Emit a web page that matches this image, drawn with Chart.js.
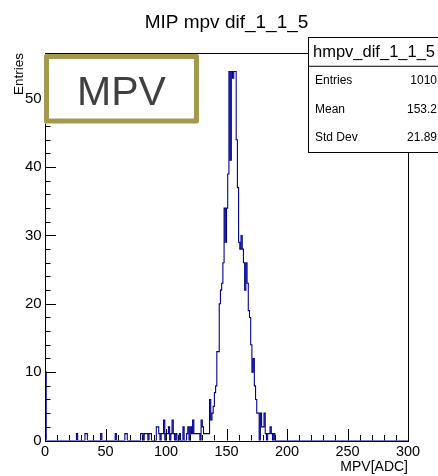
<!DOCTYPE html>
<html><head><meta charset="utf-8">
<script src="https://cdn.jsdelivr.net/npm/chart.js@4.4.1/dist/chart.umd.min.js"></script>
<style>html,body{margin:0;padding:0;background:#fff;overflow:hidden}canvas{display:block}</style>
</head><body>
<canvas id="c" width="438" height="476"></canvas>
<script>
const chartTitle = 'MIP mpv dif_1_1_5';
const histName = 'hmpv_dif_1_1_5';
const statLabels = ['Entries', 'Mean', 'Std Dev'];
const statValues = ['1010', '153.2', '21.89'];
const xTitle = 'MPV[ADC]';
const yTitle = 'Entries';
const overlayLabel = 'MPV';
const xTicks = [0, 50, 100, 150, 200, 250, 300];
const yTicks = [0, 10, 20, 30, 40, 50];
const xRange = [0, 300];
const yRange = [0, 56.7];
const binWidth = 1;
// lower edges of non-empty bins and their contents
const binLow = [0, 26, 33, 34, 46, 58, 66, 67, 79, 80, 82, 83, 84, 86, 87, 92, 93, 94, 96, 97, 98,
  100, 101, 102, 104, 105, 106, 108, 111, 114, 117, 118, 120, 121, 122, 123, 124, 125, 126, 127,
  129, 130, 131, 132, 133, 134, 135, 136, 137, 138, 139, 140, 141, 142, 143, 144, 145, 146, 147,
  148, 149, 150, 151, 152, 153, 154, 155, 156, 157, 158, 159, 160, 161, 162, 163, 164, 165, 166,
  167, 168, 169, 170, 171, 172, 173, 174, 175, 176, 178, 179, 180, 181, 182, 184, 185, 186, 187, 189];
const binCount = [10, 1, 1, 1, 1, 1, 1, 1, 1, 1, 1, 1, 1, 1, 1, 2, 2, 1, 1, 1, 3,
  1, 1, 2, 1, 3, 1, 1, 1, 2, 1, 2, 2, 1, 3, 1, 1, 1, 1, 1,
  3, 2, 1, 1, 1, 1, 1, 6, 3, 4, 5, 7, 8, 13, 13, 20, 22, 23, 26,
  34, 29, 34, 39, 54, 41, 54, 53, 54, 54, 44, 37, 29, 28, 30, 28, 26, 22, 26,
  23, 19, 18, 14, 10, 12, 8, 6, 4, 4, 4, 2, 2, 4, 1, 1, 1, 2, 1, 1];

const nBins = Math.round((xRange[1] - xRange[0]) / binWidth);
const contents = new Array(nBins).fill(0);
binLow.forEach((b, i) => { contents[Math.round((b - xRange[0]) / binWidth)] = binCount[i]; });
const pts = [{x: xRange[0], y: 0}];
contents.forEach((c, i) => pts.push({x: xRange[0] + i * binWidth, y: c}));
pts.push({x: xRange[1], y: contents[nBins - 1]});
pts.push({x: xRange[1], y: 0});

const FONT = 'Liberation Sans, Arial, Helvetica, sans-serif';
Chart.defaults.font.family = FONT;

const rootDecor = {
  id: 'rootDecor',
  beforeDraw(chart) {
    const ctx = chart.ctx;
    ctx.save(); ctx.fillStyle = '#fff'; ctx.fillRect(0, 0, chart.width, chart.height); ctx.restore();
  },
  afterDatasetsDraw(chart) {
    const ctx = chart.ctx, a = chart.chartArea;
    const xs = chart.scales.x, ys = chart.scales.y;
    ctx.save();
    ctx.strokeStyle = '#000'; ctx.lineWidth = 1;
    ctx.strokeRect(Math.round(a.left) + 0.5, Math.round(a.top) + 0.5, Math.round(a.right - a.left), Math.round(a.bottom - a.top));
    ctx.beginPath();
    // y ticks
    for (let v = yRange[0]; v <= yRange[1]; v += 2) {
      const y = Math.round(ys.getPixelForValue(v)) + 0.5;
      const len = yTicks.includes(v) ? 11 : 5.5;
      ctx.moveTo(a.left, y); ctx.lineTo(a.left + len, y);
    }
    // x ticks
    for (let v = xRange[0]; v <= xRange[1]; v += 10) {
      const x = Math.round(xs.getPixelForValue(v)) + 0.5;
      const len = xTicks.includes(v) ? 11.5 : 5.5;
      ctx.moveTo(x, a.bottom); ctx.lineTo(x, a.bottom - len);
    }
    ctx.stroke();
    ctx.restore();
  },
  afterDraw(chart) {
    const ctx = chart.ctx;
    ctx.save();
    // title
    ctx.fillStyle = '#000';
    ctx.font = '19px ' + FONT;
    ctx.textAlign = 'center'; ctx.textBaseline = 'alphabetic';
    ctx.fillText(chartTitle, 226.5, 27.5);
    // stats box
    const bx = 308.5, by = 37.5, bw = 140, bh = 115;
    ctx.fillStyle = '#fff'; ctx.fillRect(bx, by, bw, bh);
    ctx.strokeStyle = '#000'; ctx.lineWidth = 1;
    ctx.strokeRect(bx, by, bw, bh);
    const rowH = bh / 4;
    ctx.beginPath(); ctx.moveTo(bx, by + rowH); ctx.lineTo(bx + bw, by + rowH); ctx.stroke();
    ctx.fillStyle = '#000';
    ctx.font = '16.5px ' + FONT;
    ctx.textAlign = 'left'; ctx.textBaseline = 'middle';
    ctx.fillText(histName, 313, by + rowH / 2 + 0.5);
    ctx.font = '12px ' + FONT;
    statLabels.forEach((l, i) => {
      const cy = by + rowH * (i + 1.5);
      ctx.textAlign = 'left'; ctx.fillText(l, 315, cy);
      ctx.textAlign = 'right'; ctx.fillText(statValues[i], 437, cy);
    });
    // MPV overlay box
    ctx.fillStyle = '#fff';
    ctx.fillRect(44, 54, 155, 69.5);
    ctx.strokeStyle = '#a39a4e'; ctx.lineWidth = 5; ctx.lineJoin = 'round';
    ctx.strokeRect(46.5, 56.5, 150, 64.5);
    ctx.fillStyle = '#404040';
    ctx.font = '41px ' + FONT;
    ctx.textAlign = 'center'; ctx.textBaseline = 'alphabetic';
    ctx.fillText(overlayLabel, 121.5, 105);
    ctx.restore();
  }
};

new Chart(document.getElementById('c'), {
  type: 'line',
  data: {
    datasets: [{
      data: pts,
      stepped: true,
      borderColor: '#00008f',
      borderWidth: 1.1,
      pointRadius: 0,
      fill: false,
      tension: 0
    }]
  },
  options: {
    responsive: false,
    animation: false,
    devicePixelRatio: 1,
    layout: {padding: {left: 0, right: 30, top: 53, bottom: 0}},
    plugins: {legend: {display: false}, tooltip: {enabled: false}, title: {display: false}},
    scales: {
      x: {
        type: 'linear', min: xRange[0], max: xRange[1],
        afterBuildTicks: s => { s.ticks = xTicks.map(v => ({value: v})); },
        afterFit: s => { s.height = 35.5; },
        grid: {display: false, drawTicks: false},
        border: {display: false},
        ticks: {color: '#000', font: {size: 14.5}, padding: 2.5, maxRotation: 0, autoSkip: false},
        title: {display: true, text: xTitle, align: 'end', color: '#000', font: {size: 14}, padding: 0}
      },
      y: {
        type: 'linear', min: yRange[0], max: yRange[1],
        afterBuildTicks: s => { s.ticks = yTicks.map(v => ({value: v})); },
        afterFit: s => { s.width = 45; },
        grid: {display: false, drawTicks: false},
        border: {display: false},
        ticks: {color: '#000', font: {size: 15}, padding: 3.3, autoSkip: false},
        title: {display: true, text: yTitle, align: 'end', color: '#000', font: {size: 13.5}, padding: {top: 10.9, bottom: 0}}
      }
    }
  },
  plugins: [rootDecor]
});
</script>
</body></html>
